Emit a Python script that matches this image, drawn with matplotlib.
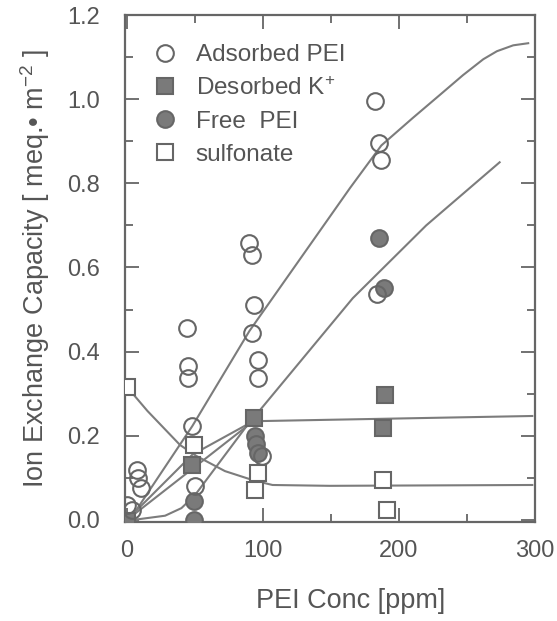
import matplotlib
matplotlib.use("Agg")
import matplotlib.pyplot as plt
from matplotlib.lines import Line2D
from matplotlib.ticker import MultipleLocator, FormatStrFormatter

plt.rcParams['font.family'] = ['Liberation Sans', 'DejaVu Sans']
plt.rcParams['mathtext.fontset'] = 'custom'
plt.rcParams['mathtext.rm'] = 'Liberation Sans'
plt.rcParams['mathtext.it'] = 'Liberation Sans:italic'

# measured points (ppm, meq/m2)
ads_x = [0, 4, 7, 8, 10, 44, 45, 45, 48, 50, 90, 92, 93, 92, 96, 96, 99, 182, 185, 187, 184]
ads_y = [0.036, 0.024, 0.119, 0.100, 0.076, 0.456, 0.366, 0.337, 0.223, 0.081,
         0.658, 0.630, 0.510, 0.444, 0.380, 0.337, 0.152, 0.995, 0.895, 0.855, 0.537]

free_x = [49, 49, 94, 95, 96, 185, 189]
free_y = [0.045, 0.000, 0.200, 0.180, 0.160, 0.670, 0.551]

kdes_x = [0, 48, 93, 190, 188]
kdes_y = [-0.003, 0.130, 0.242, 0.297, 0.219]

sulf_x = [0, 49, 96, 94, 188, 191]
sulf_y = [0.316, 0.178, 0.112, 0.071, 0.095, 0.024]

# hand drawn guide curves
ads_cx = [2, 48, 90, 164, 187, 210, 230, 247, 262, 272, 284, 295]
ads_cy = [0.0, 0.223, 0.449, 0.789, 0.89, 0.955, 1.01, 1.057, 1.095, 1.114, 1.128, 1.133]

free_cx = [0, 28, 40, 50, 87, 166, 220, 274]
free_cy = [-0.002, 0.010, 0.028, 0.059, 0.219, 0.527, 0.70, 0.850]

sulf_cx = [0, 15, 39, 51, 72, 94, 107, 149, 298]
sulf_cy = [0.316, 0.259, 0.178, 0.152, 0.116, 0.093, 0.083, 0.081, 0.083]

kdes_cx = [0, 48, 93, 100, 149, 298]
kdes_cy = [0.0, 0.155, 0.235, 0.235, 0.238, 0.247]

kdes2_cx = [2, 93]
kdes2_cy = [0.005, 0.235]

INK = '#666666'
FILL = '#7a7a7a'
LINE = '#7c7c7c'
TXT = '#555555'

fig = plt.figure(figsize=(5.57, 6.21), dpi=100)
ax = fig.add_axes([0.2244, 0.1594, 0.7361, 0.8164])

lw = 1.5
for cx, cy in [(ads_cx, ads_cy), (free_cx, free_cy), (sulf_cx, sulf_cy),
               (kdes_cx, kdes_cy), (kdes2_cx, kdes2_cy)]:
    ax.plot(cx, cy, color=LINE, lw=lw, zorder=2)

ms = 12
mew = 1.5
ax.plot(sulf_x, sulf_y, 's', ms=ms, mfc='white', mec=INK, mew=mew, zorder=3)
ax.plot(kdes_x, kdes_y, 's', ms=ms, mfc=FILL, mec=INK, mew=mew, zorder=4)
ax.plot(ads_x, ads_y, 'o', ms=ms, mfc='none', mec=INK, mew=mew, zorder=5)
ax.plot(free_x, free_y, 'o', ms=ms, mfc=FILL, mec=INK, mew=mew, zorder=4)

ax.set_xlim(-1.5, 300)
ax.set_ylim(-0.005, 1.2)

ax.xaxis.set_major_locator(MultipleLocator(100))
ax.xaxis.set_minor_locator(MultipleLocator(50))
ax.yaxis.set_major_locator(MultipleLocator(0.2))
ax.yaxis.set_minor_locator(MultipleLocator(0.1))
ax.yaxis.set_major_formatter(FormatStrFormatter('%.1f'))

ax.tick_params(which='both', direction='in', top=True, right=True,
               color=INK, width=1.3, labelcolor=TXT, labelsize=17)
ax.tick_params(which='major', length=10)
ax.tick_params(which='minor', length=6)
ax.tick_params(axis='y', pad=18)
ax.tick_params(axis='x', pad=13)

for s in ax.spines.values():
    s.set_color(INK)
    s.set_linewidth(1.6)

ax.set_xlabel('PEI Conc [ppm]', fontsize=19.5, color=TXT)
ax.xaxis.set_label_coords(0.55, -0.13)
ax.set_ylabel('Ion Exchange Capacity [ meq.\u2022 m$^{-2}$ ]', fontsize=19.5, color=TXT)
ax.yaxis.set_label_coords(-0.178, 0.5)

handles = [
    Line2D([], [], ls='none', marker='o', ms=ms, mfc='none', mec=INK, mew=mew),
    Line2D([], [], ls='none', marker='s', ms=ms, mfc=FILL, mec=INK, mew=mew),
    Line2D([], [], ls='none', marker='o', ms=ms, mfc=FILL, mec=INK, mew=mew),
    Line2D([], [], ls='none', marker='s', ms=ms, mfc='white', mec=INK, mew=mew),
]
labels = ['Adsorbed PEI', 'Desorbed K$^{+}$', 'Free  PEI', 'sulfonate']
leg = ax.legend(handles, labels, loc='upper left', bbox_to_anchor=(0.045, 0.962),
                frameon=False, fontsize=17.5, handlelength=1.0, handletextpad=0.75,
                labelspacing=0.45, borderaxespad=0)
for t in leg.get_texts():
    t.set_color(TXT)

fig.savefig('out.png', dpi=100)
